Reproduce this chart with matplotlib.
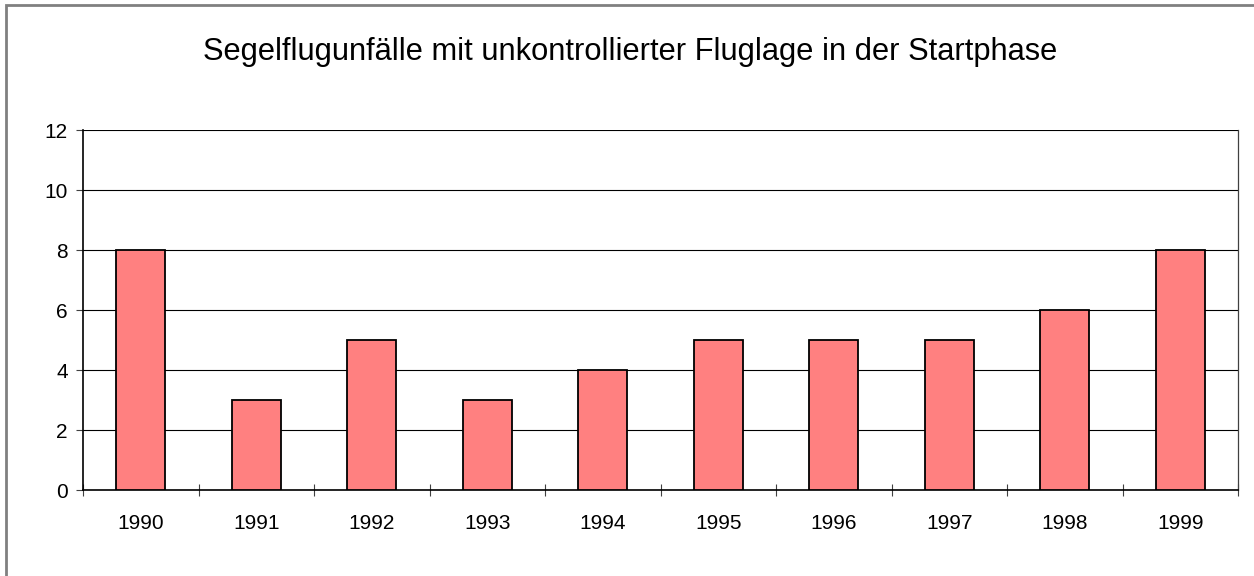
import matplotlib
matplotlib.use("Agg")
import matplotlib.pyplot as plt
from matplotlib.patches import Rectangle
import numpy as np

plt.rcParams["font.family"] = ["Liberation Sans", "DejaVu Sans"]

years = ["1990", "1991", "1992", "1993", "1994", "1995", "1996", "1997", "1998", "1999"]
accidents = [8, 3, 5, 3, 4, 5, 5, 5, 6, 8]
title = "Segelflugunfälle mit unkontrollierter Fluglage in der Startphase"

W, H = 1254, 576
fig = plt.figure(figsize=(W / 100, H / 100), dpi=100)

# outer chart border (grey, cut off at right/bottom like the reference)
fig.patches.append(Rectangle((5.5 / W, -0.1), 1.2, (H - 4.5) / H + 0.1,
                             transform=fig.transFigure, fill=False,
                             edgecolor="#808080", linewidth=2))

left, right, top, bottom = 83, 1238, 130, 490
ax = fig.add_axes([left / W, (H - bottom) / H, (right - left) / W, (bottom - top) / H])

x = np.arange(len(years))
ax.bar(x, accidents, width=0.42, color="#FF8080", edgecolor="black", linewidth=1.3, zorder=3)

ax.set_xlim(-0.5, len(years) - 0.5)
ax.set_ylim(0, 12)
ax.set_yticks(range(0, 13, 2))
ax.yaxis.grid(True, color="black", linewidth=0.8, zorder=0)

ax.set_xticks(x)
ax.set_xticklabels(years)
ax.set_xticks(np.arange(-0.5, len(years), 1), minor=True)
ax.tick_params(axis="x", which="major", length=0, pad=17, labelsize=15)
ax.tick_params(axis="x", which="minor", direction="inout", length=9, width=0.8, color="#404040")
ax.tick_params(axis="y", length=5, width=0.8, pad=6, labelsize=15, color="#404040")

for side in ("left", "bottom"):
    ax.spines[side].set_linewidth(1.2)
    ax.spines[side].set_color("black")
ax.spines["top"].set_visible(False)
ax.spines["right"].set_color("#404040")
ax.spines["right"].set_linewidth(0.9)

fig.text(630 / W, 1 - 52 / H, title, ha="center", va="center", fontsize=22.2)

fig.savefig("out.png", dpi=100)
